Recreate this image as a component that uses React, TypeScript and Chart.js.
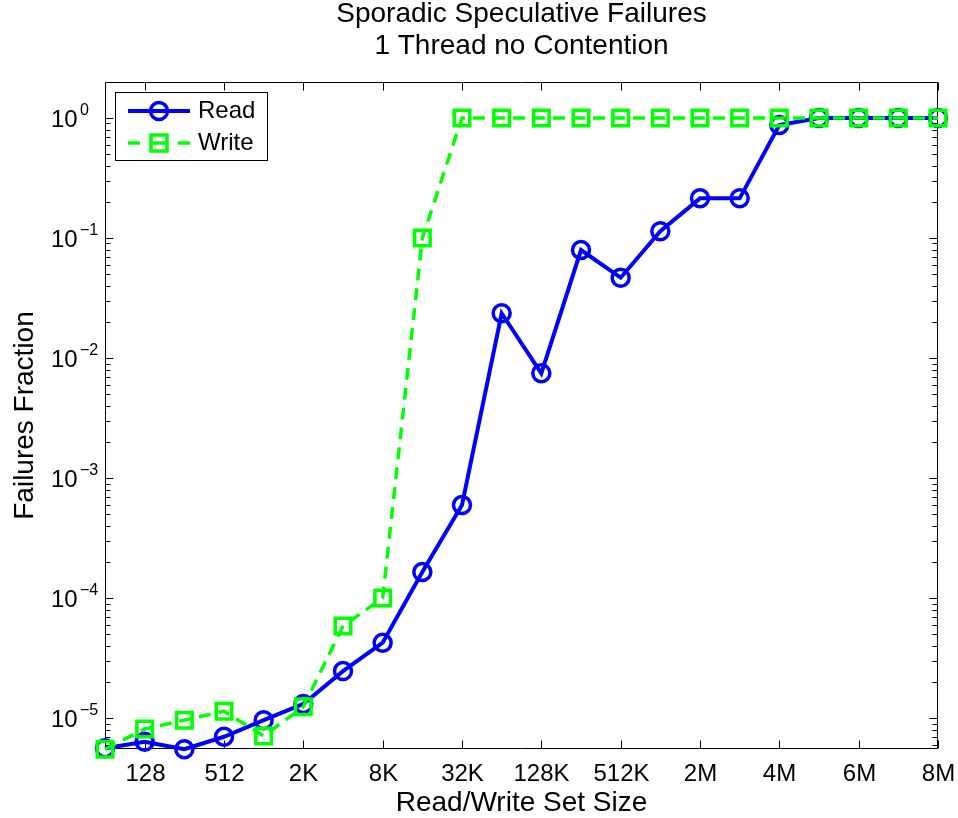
import React, { useEffect, useRef } from "react";
import { Chart, registerables } from "chart.js";

Chart.register(...registerables);

const titleLines = ["Sporadic Speculative Failures", "1 Thread no Contention"];
const xTitle = "Read/Write Set Size";
const yTitle = "Failures Fraction";

const categories = [
  "64", "128", "256", "512", "1K", "2K", "4K", "8K", "16K", "32K", "64K",
  "128K", "256K", "512K", "1M", "2M", "3M", "4M", "5M", "6M", "7M", "8M",
];
const tickLabels = ["128", "512", "2K", "8K", "32K", "128K", "512K", "2M", "4M", "6M", "8M"];

const readValues = [
  5.6e-6, 6.35e-6, 5.5e-6, 6.98e-6, 9.6e-6, 1.31e-5, 2.46e-5, 4.24e-5, 1.65e-4, 5.96e-4,
  0.0236, 0.00745, 0.0794, 0.0467, 0.114, 0.214, 0.214, 0.874, 1, 1, 1, 1,
];
const writeValues = [
  5.5e-6, 8.1e-6, 9.6e-6, 1.14e-5, 7.08e-6, 1.24e-5, 5.84e-5, 1.0e-4, 0.1, 1,
  1, 1, 1, 1, 1, 1, 1, 1, 1, 1, 1, 1,
];
const yDecades = [0, -1, -2, -3, -4, -5];
const yMin = 5.52e-6;
const yMax = 1.995;

const FONT = '"Liberation Sans", Arial, Helvetica, sans-serif';
const BLUE = "#0000ff";
const GREEN = "#00ff00";

const matlabPlugin = {
  id: "matlabAxes",
  beforeDatasetsDraw(chart: any) {
    const { ctx, chartArea: a, scales } = chart;
    const x = scales.x;
    const y = scales.y;
    ctx.save();
    ctx.strokeStyle = "#000";
    ctx.lineWidth = 1;
    const L = Math.round(a.left) + 0.5;
    const R = Math.round(a.right) - 0.5;
    const T = Math.round(a.top) + 0.5;
    const B = Math.round(a.bottom) - 0.5;
    ctx.beginPath();
    ctx.rect(L, T, R - L, B - T);
    ctx.stroke();

    // x ticks & labels
    ctx.fillStyle = "#000";
    ctx.font = `24px ${FONT}`;
    ctx.textAlign = "center";
    ctx.textBaseline = "alphabetic";
    tickLabels.forEach((lbl) => {
      const i = categories.indexOf(lbl);
      const px = Math.round(x.getPixelForValue(i)) + 0.5;
      ctx.beginPath();
      ctx.moveTo(px, B);
      ctx.lineTo(px, B - 8);
      ctx.moveTo(px, T);
      ctx.lineTo(px, T + 8);
      ctx.stroke();
      ctx.fillText(lbl, px, 781);
    });

    // y ticks
    for (let e = -6; e <= 0; e++) {
      for (let m = 1; m <= 9; m++) {
        const v = m * Math.pow(10, e);
        if (v < yMin || v > yMax) continue;
        const py = Math.round(y.getPixelForValue(v)) + 0.5;
        const len = m === 1 ? 8 : 5;
        ctx.beginPath();
        ctx.moveTo(L, py);
        ctx.lineTo(L + len, py);
        ctx.moveTo(R, py);
        ctx.lineTo(R - len, py);
        ctx.stroke();
      }
    }
    // y labels
    yDecades.forEach((d) => {
      const py = y.getPixelForValue(Math.pow(10, d));
      ctx.textAlign = "left";
      ctx.textBaseline = "alphabetic";
      ctx.font = `24px ${FONT}`;
      ctx.fillText("10", 51, py + 9);
      ctx.font = `16px ${FONT}`;
      ctx.fillText(d === 0 ? "0" : "\u2212" + String(-d), 80, py - 3);
    });

    // titles
    ctx.textAlign = "center";
    ctx.font = `28px ${FONT}`;
    const cx = (a.left + a.right) / 2;
    ctx.fillText(titleLines[0], cx, 22);
    ctx.fillText(titleLines[1], cx, 54);
    ctx.fillText(xTitle, cx, 811);
    ctx.save();
    ctx.translate(33, (a.top + a.bottom) / 2);
    ctx.rotate(-Math.PI / 2);
    ctx.fillText(yTitle, 0, 0);
    ctx.restore();
    ctx.restore();
  },
  afterDraw(chart: any) {
    const { ctx } = chart;
    ctx.save();
    // legend box
    ctx.fillStyle = "#fff";
    ctx.strokeStyle = "#000";
    ctx.lineWidth = 1;
    ctx.fillRect(115.5, 92.5, 152, 68);
    ctx.strokeRect(115.5, 92.5, 152, 68);

    // Read entry
    ctx.strokeStyle = BLUE;
    ctx.lineWidth = 4;
    ctx.beginPath();
    ctx.moveTo(128, 111);
    ctx.lineTo(190, 111);
    ctx.stroke();
    ctx.lineWidth = 3.5;
    ctx.beginPath();
    ctx.arc(159, 111, 8.5, 0, Math.PI * 2);
    ctx.stroke();

    // Write entry
    ctx.strokeStyle = GREEN;
    ctx.lineWidth = 3.5;
    ctx.beginPath();
    ctx.moveTo(128, 143);
    ctx.lineTo(140, 143);
    ctx.moveTo(178, 143);
    ctx.lineTo(190, 143);
    ctx.stroke();
    ctx.strokeRect(151, 135, 16, 16);
    ctx.beginPath();
    ctx.moveTo(152, 143);
    ctx.lineTo(166, 143);
    ctx.stroke();

    ctx.fillStyle = "#000";
    ctx.font = `24px ${FONT}`;
    ctx.textAlign = "left";
    ctx.textBaseline = "middle";
    ctx.fillText("Read", 198, 111);
    ctx.fillText("Write", 198, 143);
    ctx.restore();
  },
};

export default function App() {
  const canvasRef = useRef<HTMLCanvasElement | null>(null);

  useEffect(() => {
    document.body.style.margin = "0";
    const canvas = canvasRef.current;
    if (!canvas) return;
    const chart = new Chart(canvas, {
      type: "line",
      data: {
        labels: categories,
        datasets: [
          {
            label: "Read",
            data: readValues,
            borderColor: BLUE,
            backgroundColor: "rgba(0,0,0,0)",
            borderWidth: 4,
            pointStyle: "circle",
            pointRadius: 8.5,
            pointBorderWidth: 3.5,
            pointBorderColor: BLUE,
            pointBackgroundColor: "rgba(0,0,0,0)",
            tension: 0,
            fill: false,
            clip: false as any,
            order: 1,
          },
          {
            label: "Write",
            data: writeValues,
            borderColor: GREEN,
            backgroundColor: "rgba(0,0,0,0)",
            borderWidth: 3.5,
            borderDash: [12, 8],
            pointStyle: "rect",
            pointRadius: 11,
            pointBorderWidth: 3.5,
            pointBorderColor: GREEN,
            pointBackgroundColor: "rgba(0,0,0,0)",
            tension: 0,
            fill: false,
            clip: false as any,
            order: 0,
          },
        ],
      },
      options: {
        responsive: false,
        animation: false,
        events: [],
        layout: { padding: { left: 105, right: 20, top: 82, bottom: 69 } },
        plugins: {
          legend: { display: false },
          title: { display: false },
          tooltip: { enabled: false },
        },
        scales: {
          x: { type: "category", display: false, offset: false, bounds: "data" },
          y: { type: "logarithmic", display: false, min: yMin, max: yMax, bounds: "data" },
        },
      },
      plugins: [matlabPlugin],
    });
    return () => chart.destroy();
  }, []);

  return (
    <div style={{ position: "absolute", left: 0, top: 0, width: 958, height: 818, background: "#fff" }}>
      <canvas ref={canvasRef} width={958} height={818} style={{ display: "block" }} />
    </div>
  );
}
